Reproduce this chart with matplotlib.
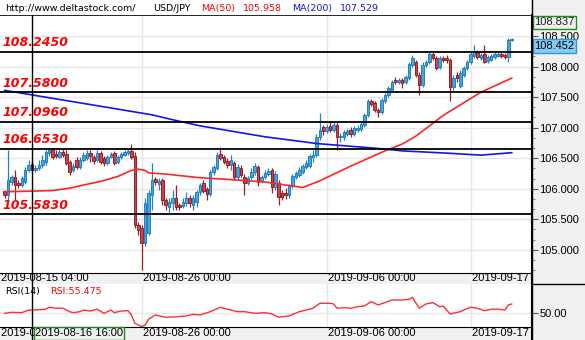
import numpy as np
import matplotlib.pyplot as plt
from matplotlib.lines import Line2D
from matplotlib.patches import Rectangle
from matplotlib.ticker import MultipleLocator, FormatStrFormatter, FixedLocator

# USD/JPY 4h candles, 2019-08-15 04:00 .. 2019-09-17
opens = [
    105.96, 105.90, 106.11, 106.19, 106.09, 106.06, 106.11, 106.31, 106.41, 106.31,
    106.34, 106.39, 106.44, 106.59, 106.63, 106.57, 106.52, 106.60, 106.57, 106.44,
    106.31, 106.47, 106.36, 106.47, 106.50, 106.59, 106.52, 106.47, 106.59, 106.50,
    106.42, 106.52, 106.59, 106.44, 106.52, 106.55, 106.59, 106.62, 106.54, 105.41,
    105.36, 105.11, 105.28, 105.90, 106.16, 106.08, 106.14, 105.82, 105.70, 105.77,
    105.85, 105.73, 105.72, 105.77, 105.85, 105.73, 105.78, 105.95, 106.09, 106.00,
    105.91, 106.27, 106.34, 106.57, 106.52, 106.45, 106.39, 106.42, 106.19, 106.34,
    106.19, 106.09, 106.19, 106.27, 106.36, 106.13, 106.19, 106.24, 106.31, 106.03,
    106.09, 105.93, 105.93, 105.90, 106.04, 106.19, 106.23, 106.27, 106.36, 106.37,
    106.52, 106.55, 106.85, 107.01, 106.95, 107.03, 106.96, 107.04, 106.85, 106.85,
    106.90, 106.96, 106.90, 106.96, 106.98, 107.04, 107.21, 107.44, 107.40, 107.29,
    107.26, 107.44, 107.54, 107.62, 107.78, 107.75, 107.78, 107.75, 107.81, 108.03,
    108.07, 107.86, 107.70, 108.03, 108.07, 108.21, 108.14, 107.99, 108.14, 108.14,
    108.11, 107.67, 107.86, 107.68, 107.86, 107.98, 108.07, 108.17, 108.24, 108.14,
    108.21, 108.09, 108.11, 108.16, 108.17, 108.21, 108.19, 108.16, 108.43,
]
highs = [
    105.98, 106.63, 106.23, 106.31, 106.14, 106.21, 106.36, 106.47, 106.47, 106.39,
    106.47, 106.55, 106.65, 106.67, 106.67, 106.63, 106.65, 106.65, 106.63, 106.47,
    106.42, 106.52, 106.52, 106.60, 106.63, 106.63, 106.55, 106.63, 106.62, 106.54,
    106.55, 106.60, 106.62, 106.55, 106.60, 106.63, 106.65, 106.73, 106.60, 105.46,
    105.41, 105.85, 105.98, 106.42, 106.19, 106.18, 106.18, 105.85, 105.85, 105.98,
    106.06, 105.77, 105.85, 105.95, 105.90, 105.90, 105.98, 106.09, 106.14, 106.03,
    106.31, 106.39, 106.60, 106.68, 106.55, 106.50, 106.55, 106.45, 106.41, 106.39,
    106.24, 106.21, 106.34, 106.42, 106.39, 106.23, 106.31, 106.34, 106.34, 106.29,
    106.14, 105.98, 106.01, 106.08, 106.24, 106.29, 106.36, 106.41, 106.47, 106.57,
    106.63, 106.90, 107.24, 107.04, 107.06, 107.11, 107.11, 107.09, 106.91, 106.96,
    106.98, 107.01, 107.03, 107.04, 107.09, 107.24, 107.47, 107.47, 107.44, 107.32,
    107.49, 107.57, 107.68, 107.78, 107.83, 107.81, 107.81, 107.86, 108.07, 108.19,
    108.11, 107.91, 108.07, 108.11, 108.24, 108.26, 108.17, 108.17, 108.17, 108.19,
    108.14, 107.86, 107.91, 107.94, 108.01, 108.11, 108.24, 108.35, 108.27, 108.22,
    108.35, 108.19, 108.21, 108.26, 108.24, 108.26, 108.22, 108.47, 108.47,
]
lows = [
    105.85, 105.82, 106.06, 105.82, 106.01, 106.03, 106.08, 106.27, 106.27, 106.27,
    106.31, 106.34, 106.39, 106.54, 106.49, 106.50, 106.50, 106.52, 106.39, 106.23,
    106.27, 106.32, 106.32, 106.44, 106.47, 106.44, 106.41, 106.44, 106.41, 106.37,
    106.39, 106.50, 106.39, 106.41, 106.49, 106.54, 106.55, 106.49, 105.36, 105.24,
    104.67, 105.06, 105.24, 105.65, 106.06, 105.98, 105.73, 105.65, 105.60, 105.65,
    105.65, 105.65, 105.69, 105.72, 105.70, 105.65, 105.70, 105.90, 105.93, 105.82,
    105.88, 106.23, 106.31, 106.47, 106.41, 106.34, 106.31, 106.14, 106.14, 106.19,
    105.90, 106.06, 106.14, 106.23, 106.05, 106.09, 106.16, 106.21, 105.93, 105.98,
    105.73, 105.82, 105.83, 105.85, 106.01, 106.16, 106.19, 106.24, 106.32, 106.34,
    106.44, 106.52, 106.80, 106.88, 106.91, 106.93, 106.93, 106.63, 106.77, 106.80,
    106.86, 106.85, 106.86, 106.93, 106.95, 107.01, 107.17, 107.36, 107.26, 107.17,
    107.22, 107.40, 107.50, 107.58, 107.71, 107.71, 107.65, 107.71, 107.78, 107.99,
    107.83, 107.53, 107.67, 107.99, 108.04, 108.11, 107.94, 107.96, 108.07, 108.06,
    107.44, 107.62, 107.75, 107.65, 107.83, 107.94, 108.04, 108.14, 108.12, 108.11,
    108.06, 108.06, 108.09, 108.12, 108.16, 108.14, 108.12, 108.07, 108.42,
]
closes = [
    105.90, 106.14, 106.19, 106.06, 106.06, 106.18, 106.31, 106.39, 106.31, 106.34,
    106.39, 106.47, 106.60, 106.63, 106.52, 106.54, 106.60, 106.55, 106.42, 106.27,
    106.37, 106.36, 106.47, 106.55, 106.59, 106.54, 106.45, 106.59, 106.44, 106.42,
    106.52, 106.57, 106.42, 106.52, 106.57, 106.60, 106.62, 106.52, 105.41, 105.32,
    105.11, 105.77, 105.93, 106.14, 106.11, 106.13, 105.82, 105.73, 105.78, 105.85,
    105.70, 105.70, 105.78, 105.85, 105.77, 105.85, 105.95, 106.06, 105.96, 105.91,
    106.27, 106.36, 106.55, 106.50, 106.44, 106.39, 106.47, 106.19, 106.36, 106.23,
    106.09, 106.18, 106.27, 106.37, 106.11, 106.19, 106.26, 106.29, 106.03, 106.24,
    105.87, 105.87, 105.90, 106.04, 106.21, 106.26, 106.31, 106.37, 106.42, 106.54,
    106.55, 106.85, 106.96, 106.95, 107.01, 106.96, 107.04, 106.85, 106.86, 106.93,
    106.95, 106.90, 106.99, 106.99, 107.06, 107.21, 107.44, 107.39, 107.29, 107.26,
    107.45, 107.54, 107.65, 107.75, 107.75, 107.78, 107.73, 107.83, 108.04, 108.14,
    107.86, 107.70, 108.03, 108.07, 108.21, 108.14, 107.98, 108.14, 108.11, 108.11,
    107.67, 107.81, 107.81, 107.89, 107.98, 108.07, 108.21, 108.26, 108.16, 108.19,
    108.07, 108.16, 108.17, 108.21, 108.21, 108.17, 108.16, 108.43, 108.452,
]

# moving averages (read at candle indices)
ma50_idx = [0, 14, 19, 23, 28, 33, 37, 39, 41, 42, 47, 57, 66, 76, 87, 92,
            101, 111, 116, 120, 128, 139, 148]
ma50_val = [105.95, 105.97, 106.01, 106.06, 106.12, 106.20, 106.30, 106.32,
            106.30, 106.26, 106.24, 106.18, 106.15, 106.11, 106.02, 106.13,
            106.37, 106.62, 106.73, 106.86, 107.20, 107.58, 107.81]
ma200_idx = [0, 14, 28, 43, 49, 57, 76, 87, 91, 109, 116, 130, 139, 148]
ma200_val = [107.61, 107.48, 107.35, 107.21, 107.13, 107.03, 106.85, 106.77,
             106.74, 106.66, 106.62, 106.58, 106.55, 106.59]

# RSI(14)
rsi_idx = [0, 2, 5, 7, 9, 12, 13, 15, 17, 19, 20, 22, 23, 25, 27, 29, 31, 32,
           34, 36, 37, 38, 40, 41, 42, 44, 47, 50, 53, 55, 57, 60, 63, 65, 68,
           70, 73, 76, 78, 80, 83, 86, 88, 90, 92, 95, 96, 97, 99, 101, 103,
           105, 107, 109, 111, 113, 116, 118, 119, 121, 123, 125, 127, 128,
           130, 133, 134, 136, 138, 140, 142, 144, 146, 147, 148]
rsi_val = [49.8, 50.4, 50.2, 51.8, 51.8, 52.3, 53.5, 52.9, 52.9, 50.8, 50.2,
           50.8, 51.8, 51.2, 52.3, 49.8, 51.8, 50.2, 51.2, 51.4, 48.8, 43.7,
           41.7, 42.7, 46.2, 48.8, 47.4, 47.7, 48.2, 49.2, 48.8, 50.8, 53.5,
           52.3, 50.8, 50.8, 49.8, 50.2, 49.4, 47.4, 48.2, 50.8, 51.8, 52.9,
           55.9, 55.9, 55.5, 52.9, 53.2, 52.9, 53.8, 54.3, 56.9, 54.9, 56.3,
           57.9, 57.9, 58.3, 59.5, 52.9, 55.5, 56.3, 53.8, 54.3, 49.4, 50.8,
           51.8, 53.5, 52.9, 51.4, 52.3, 52.4, 51.8, 54.9, 55.475]

levels = [108.245, 107.580, 107.096, 106.653, 105.583]
level_labels = ['108.2450', '107.5800', '107.0960', '106.6530', '105.5830']

cross_idx = 8
cross_price = 108.837
cross_label = '2019-08-16 16:00'
first_label = '2019-08-15 04:00'
tick_idx = [40, 94, 136]
tick_labels = ['2019-08-26 00:00', '2019-09-06 00:00', '2019-09-17 00:00']
last_price = 108.452
ma50_now = 105.958
ma200_now = 107.529
rsi_now = 55.475

W, H = 585, 340
UP_FILL, UP_EDGE = '#45A6DC', '#2580C0'
DN_FILL, DN_EDGE = '#C4474B', '#981F25'
GRID = '#E6E6E6'
PANEL = '#F0F0F0'
AXFONT = 'Liberation Sans'

plt.rcParams['font.family'] = ['DejaVu Sans']


def fig_rect(x0, y0, x1, y1):
    return [x0 / W, 1 - y1 / H, (x1 - x0) / W, (y1 - y0) / H]


def fig_pt(x, y):
    return x / W, 1 - y / H


fig = plt.figure(figsize=(W / 100, H / 100), dpi=100, facecolor=PANEL)
fig.patches.append(Rectangle((0, 1 - 14.5 / H), 531 / W, 14.5 / H,
                             transform=fig.transFigure, facecolor='white',
                             edgecolor='none', zorder=0))

xlim = (-1.36, 153.63)

# ---- price panel ----
ax = fig.add_axes(fig_rect(0, 14.5, 531, 272.5))
ax.set_facecolor('white')
ax.set_xlim(*xlim)
ax.set_ylim(104.629, 108.852)
for s in ['top', 'left', 'bottom']:
    ax.spines[s].set_visible(False)
ax.spines['right'].set_color('black')
ax.set_xticks([])
ax.yaxis.tick_right()
ax.yaxis.set_major_locator(MultipleLocator(0.5))
ax.yaxis.set_minor_locator(MultipleLocator(0.5 / 3))
ax.yaxis.set_major_formatter(FormatStrFormatter('%.3f'))
ax.tick_params(axis='y', which='major', length=5, width=0.8, color='#555555',
               pad=1, labelsize=8)
ax.tick_params(axis='y', which='minor', length=3, width=0.8, color='#888888')
for lab in ax.get_yticklabels():
    lab.set_fontfamily(AXFONT)
ax.grid(axis='y', which='major', color=GRID, lw=1, zorder=0)
for t in tick_idx:
    ax.axvline(t, color=GRID, lw=1, zorder=0)

idx = np.arange(len(closes))
o = np.array(opens)
c = np.array(closes)
up = c >= o
edge = np.where(up, UP_EDGE, DN_EDGE)
fill = np.where(up, UP_FILL, DN_FILL)
ax.vlines(idx, lows, highs, colors=edge, lw=0.9, zorder=2)
body_lo = np.minimum(o, c)
body_h = np.maximum(np.abs(c - o), 0.008)
ax.bar(idx, body_h, bottom=body_lo, width=0.74, color=fill, edgecolor=edge,
       linewidth=0.7, zorder=3)

ax.plot(ma50_idx, ma50_val, color='#FF2525', lw=1.2, zorder=4)
ax.plot(ma200_idx, ma200_val, color='#1414F0', lw=1.2, zorder=4)

ytr = ax.get_yaxis_transform()
for lv, lab in zip(levels, level_labels):
    ax.axhline(lv, color='black', lw=1.3, zorder=5)
    ax.annotate(lab, (0, lv), xycoords=ytr, xytext=(2, 4),
                textcoords='offset points', ha='left', va='baseline',
                color='#FF0000', fontsize=9, fontweight='bold',
                fontstyle='italic', zorder=6)

# crosshair
ax.axhline(cross_price, color='black', lw=1.2, zorder=5)
ax.axvline(cross_idx, ymin=0, ymax=1 + 14.5 / 258, color='black', lw=1,
           clip_on=False, zorder=5)

# value boxes on the price scale
ax.annotate(f'{cross_price:.3f}', (1, cross_price), xycoords=ytr,
            xytext=(2.5, -1.5), textcoords='offset points', ha='left',
            va='top', fontsize=8, fontfamily=AXFONT, color='#202020',
            bbox=dict(boxstyle='square,pad=0.15', fc=PANEL, ec='#1E8B1E',
                      lw=1), annotation_clip=False, zorder=8)
ax.annotate(f'{last_price:.3f}', (1, last_price), xycoords=ytr,
            xytext=(2.5, -1.5), textcoords='offset points', ha='left',
            va='top', fontsize=8, fontfamily=AXFONT, color='black',
            bbox=dict(boxstyle='square,pad=0.15', fc='#86CCF2', ec='#3596D6',
                      lw=1), annotation_clip=False, zorder=8)

# ---- RSI panel ----
rax = fig.add_axes(fig_rect(0, 283.5, 531, 326.5))
rax.set_facecolor('white')
rax.set_xlim(*xlim)
rax.set_ylim(41.79, 67.94)
for s in ['top', 'left', 'bottom']:
    rax.spines[s].set_visible(False)
rax.set_xticks([])
rax.yaxis.tick_right()
rax.yaxis.set_major_locator(FixedLocator([50]))
rax.yaxis.set_major_formatter(FormatStrFormatter('%.2f'))
rax.tick_params(axis='y', length=5, width=0.8, color='#555555', pad=1,
                labelsize=8)
for lab in rax.get_yticklabels():
    lab.set_fontfamily(AXFONT)
rax.axhline(50, color=GRID, lw=1, zorder=0)
for t in tick_idx:
    rax.axvline(t, color=GRID, lw=1, zorder=0)
rax.plot(rsi_idx, rsi_val, color='#FF3030', lw=1, zorder=3)
rax.axvline(cross_idx, color='black', lw=1, zorder=5)

# ---- date strips ----
for y0, y1 in [(272.5, 283.5), (326.5, 340)]:
    s_ax = fig.add_axes(fig_rect(0, y0, 531, y1))
    s_ax.set_facecolor(PANEL)
    s_ax.set_xlim(*xlim)
    s_ax.set_ylim(0, 1)
    s_ax.set_xticks([])
    s_ax.set_yticks([])
    for s in ['left', 'bottom']:
        s_ax.spines[s].set_visible(False)
    s_ax.spines['top'].set_color('black')
    s_ax.spines['right'].set_color('black')
    s_ax.annotate(first_label, (0, 0.5), xycoords='axes fraction',
                  xytext=(1, 0), textcoords='offset points', ha='left',
                  va='center', fontsize=8, fontfamily=AXFONT, clip_on=True)
    for t, lab in zip(tick_idx, tick_labels):
        s_ax.annotate(lab, (t, 0.5), xytext=(1, 0),
                      textcoords='offset points', ha='left', va='center',
                      fontsize=8, fontfamily=AXFONT, clip_on=True)
    s_ax.axvline(cross_idx, color='black', lw=1, zorder=6)
    if y0 > 300:
        s_ax.annotate(cross_label, (cross_idx, 0.5), xytext=(2, 0),
                      textcoords='offset points', ha='left', va='center',
                      fontsize=8, fontfamily=AXFONT, zorder=7,
                      bbox=dict(boxstyle='square,pad=0.12', fc=PANEL,
                                ec='#1E8B1E', lw=1))

# right-hand scale frame
fig.add_artist(Line2D([531.5 / W] * 2, [0, 1], color='black', lw=1))
fig.add_artist(Line2D([531.5 / W, 1], [1 - 283.5 / H] * 2, color='black',
                      lw=1))

# ---- header texts ----
hdr = [('http://www.deltastock.com/', 5, 'black'),
       ('USD/JPY', 153, 'black'),
       ('MA(50)', 201, '#FF0000'),
       (f'{ma50_now:.3f}', 243, '#FF0000'),
       ('MA(200)', 292, '#1414F0'),
       (f'{ma200_now:.3f}', 340, '#1414F0')]
for txt, x, col in hdr:
    fig.text(*fig_pt(x, 11), txt, color=col, fontsize=6.8, va='baseline')

fig.text(*fig_pt(5, 294), 'RSI(14)', color='black', fontsize=6.8,
         va='baseline')
fig.text(*fig_pt(50, 294), f'RSI:{rsi_now:.3f}', color='#FF0000',
         fontsize=6.8, va='baseline')

fig.savefig('out.png', dpi=100, facecolor=fig.get_facecolor())
